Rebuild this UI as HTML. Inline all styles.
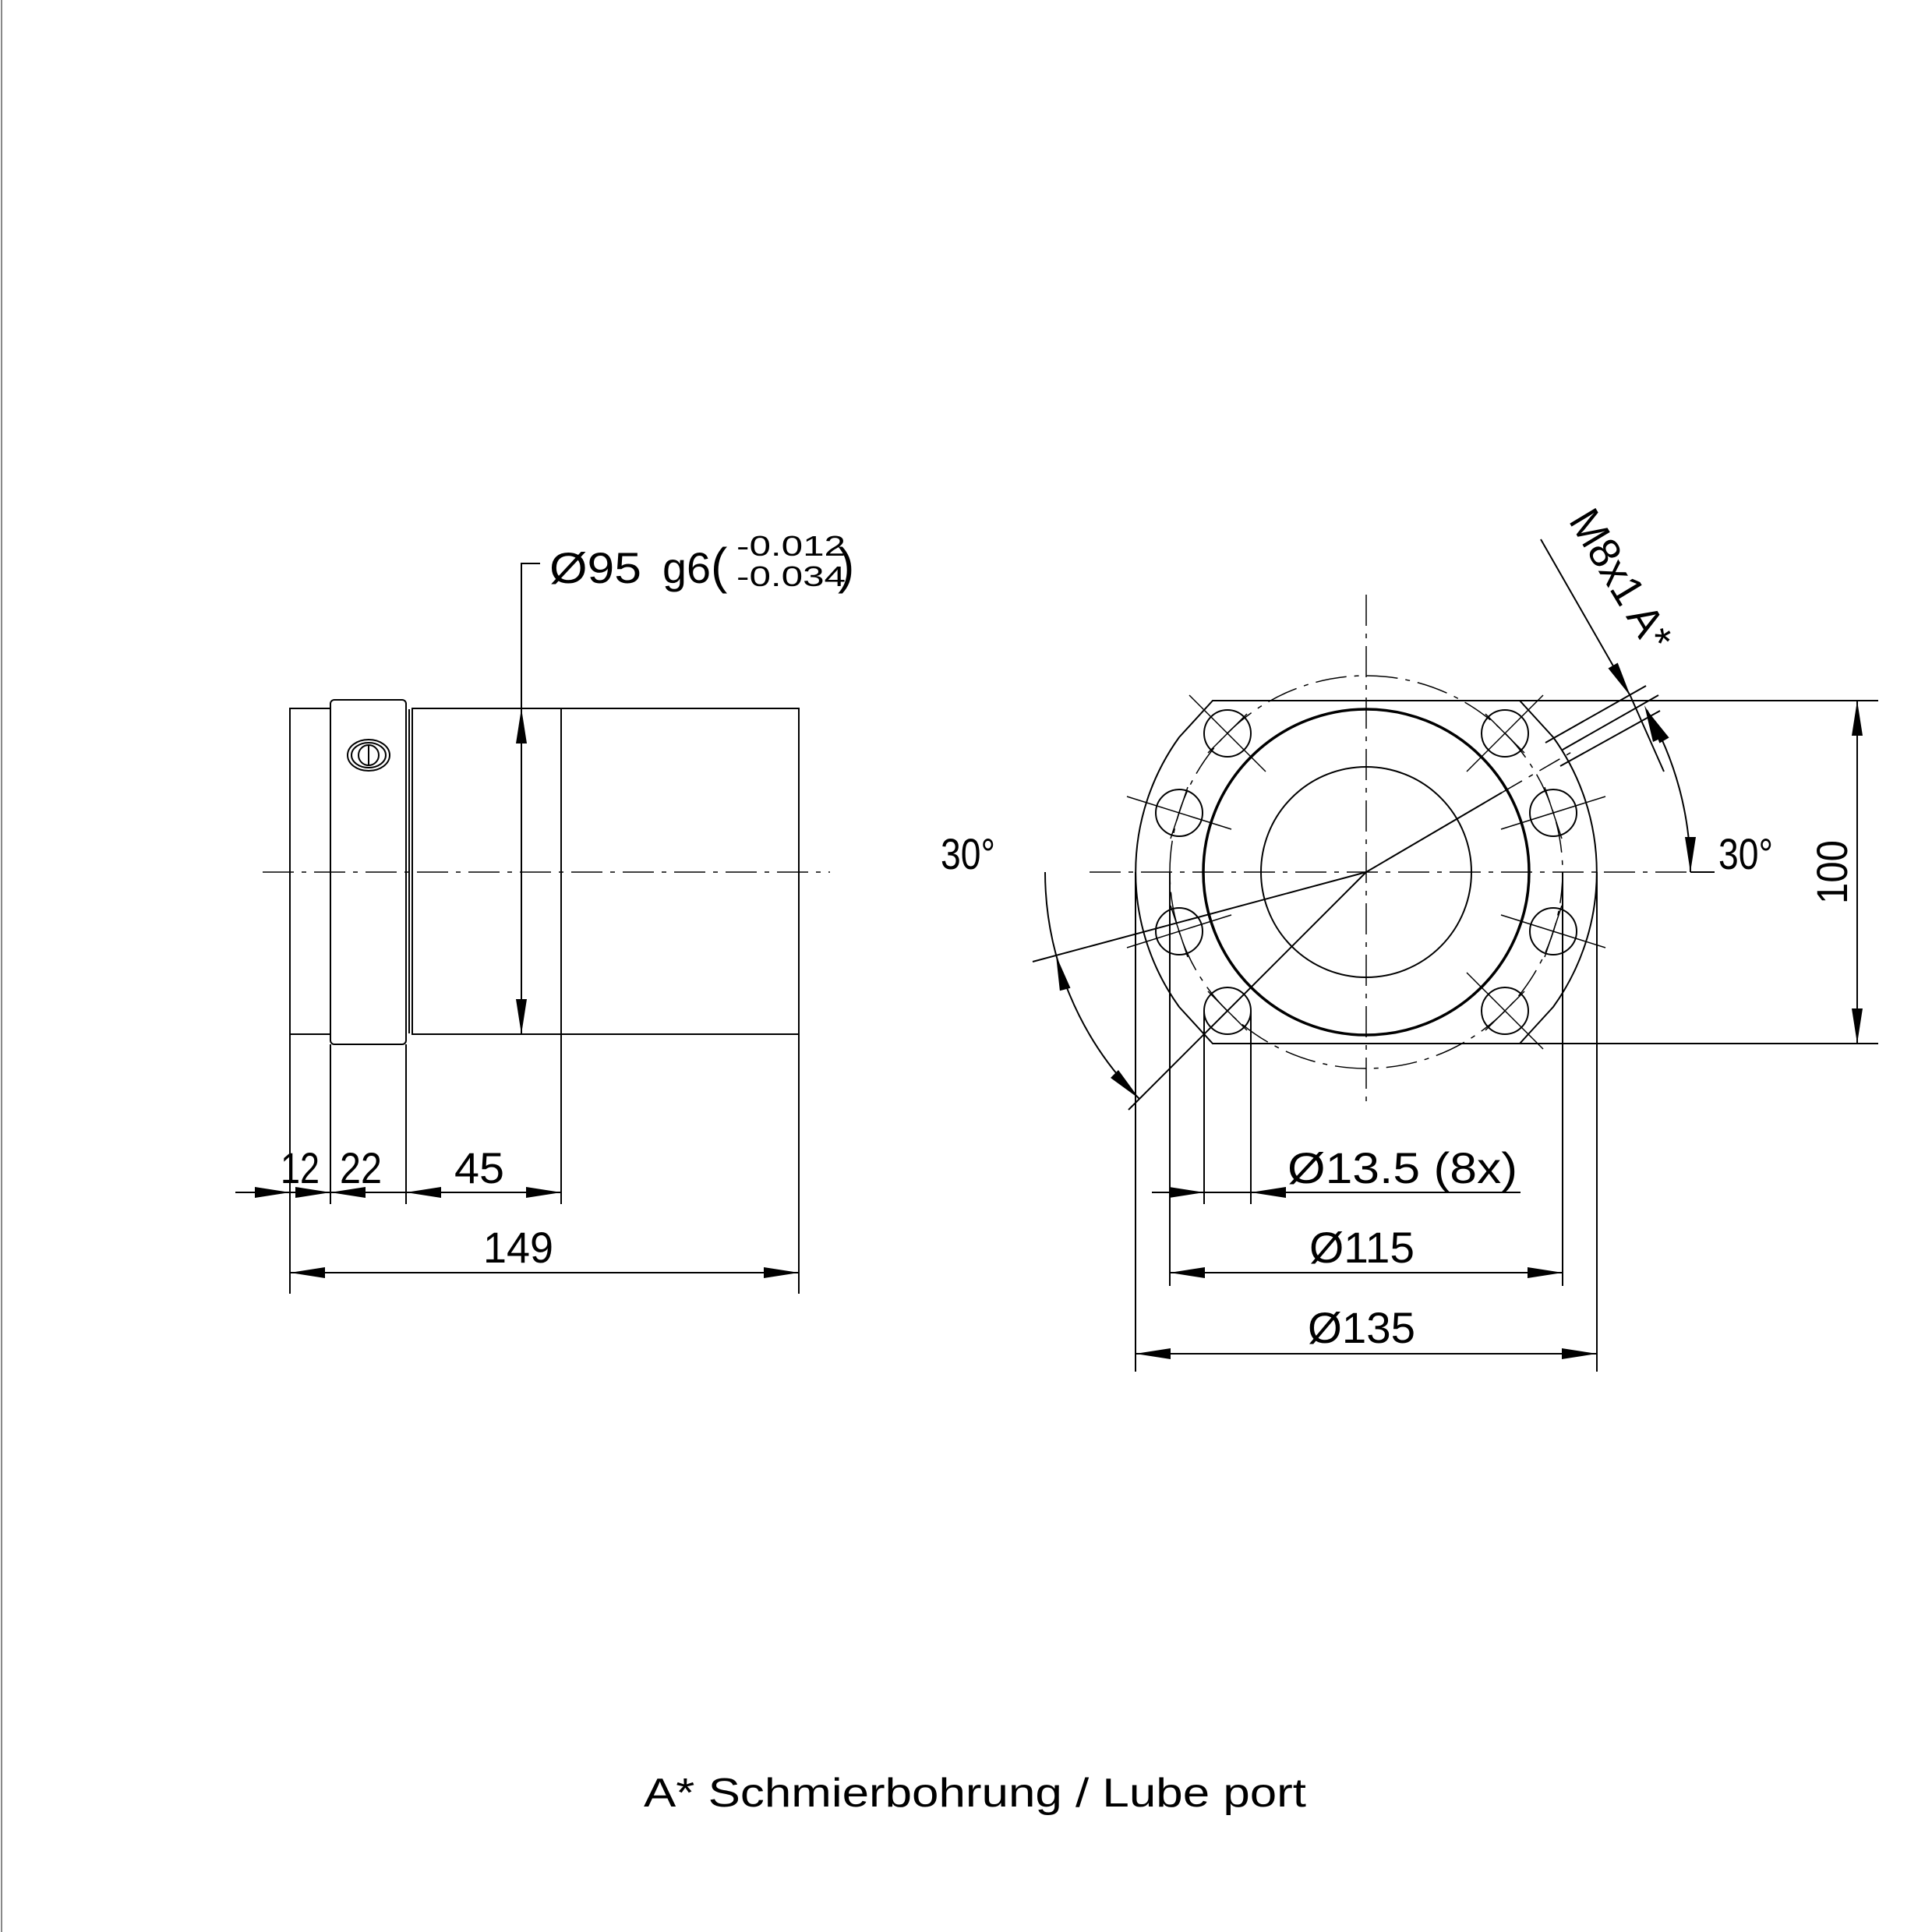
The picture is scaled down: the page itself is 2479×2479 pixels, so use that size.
<!DOCTYPE html>
<html><head><meta charset="utf-8"><style>html,body{margin:0;padding:0;background:#fff}svg{display:block}</style></head><body>
<svg width="2479" height="2479" viewBox="0 0 2479 2479" xmlns="http://www.w3.org/2000/svg" font-family="Liberation Sans, sans-serif">
<rect width="2479" height="2479" fill="#fff"/>
<line x1="2" y1="0" x2="2" y2="2479" stroke="#888" stroke-width="2"/>
<g stroke="#000" fill="none" stroke-width="2">
<!-- LEFT VIEW -->
<rect x="372" y="909" width="52" height="418"/>
<rect x="424" y="898" width="97" height="442" rx="5"/>
<line x1="521" y1="912" x2="521" y2="1325"/><line x1="525" y1="910" x2="525" y2="1326"/>
<rect x="529" y="909" width="496" height="418"/>
<line x1="720" y1="909" x2="720" y2="1327"/>
<ellipse cx="473" cy="969" rx="27" ry="20"/><ellipse cx="473" cy="969" rx="22" ry="16"/>
<circle cx="473" cy="969" r="13"/><line x1="473" y1="956" x2="473" y2="982"/>
<line x1="337" y1="1119" x2="1065" y2="1119" stroke-width="1.5" stroke-dasharray="40,10,6,10"/>
<!-- Ø95 -->
<polyline points="693,723 669,723 669,1327"/>
<!-- ext lines -->
<line x1="372" y1="1327" x2="372" y2="1660"/><line x1="424" y1="1340" x2="424" y2="1545"/>
<line x1="521" y1="1340" x2="521" y2="1545"/><line x1="720" y1="1327" x2="720" y2="1545"/>
<line x1="1025" y1="1327" x2="1025" y2="1660"/>
<line x1="302" y1="1530" x2="720" y2="1530"/>
<line x1="372" y1="1633" x2="1025" y2="1633"/>
<!-- RIGHT VIEW -->
<path d="M1556 899 L1950 899 L1993 946 A296 296 0 0 1 1993 1292 L1950 1339 L1556 1339 L1513 1292 A296 296 0 0 1 1513 946 Z"/>
<circle cx="1753" cy="1119" r="209" stroke-width="3.5"/>
<circle cx="1753" cy="1119" r="135"/>
<circle cx="1753" cy="1119" r="252" stroke-width="1.5" stroke-dasharray="40,10,6,10"/>
<circle cx="1993" cy="1043" r="30"/><circle cx="1993" cy="1195" r="30"/>
<circle cx="1513" cy="1043" r="30"/><circle cx="1513" cy="1195" r="30"/>
<circle cx="1931" cy="941" r="30"/><circle cx="1575" cy="941" r="30"/>
<circle cx="1575" cy="1297" r="30"/><circle cx="1931" cy="1297" r="30"/>
<g stroke-width="1.5">
<line x1="1926" y1="1064" x2="2060" y2="1022"/><line x1="1982" y1="1010" x2="2004" y2="1076"/>
<line x1="1926" y1="1174" x2="2060" y2="1216"/><line x1="2004" y1="1162" x2="1982" y2="1228"/>
<line x1="1580" y1="1064" x2="1446" y2="1022"/><line x1="1524" y1="1010" x2="1502" y2="1076"/>
<line x1="1580" y1="1174" x2="1446" y2="1216"/><line x1="1502" y1="1162" x2="1524" y2="1228"/>
<line x1="1882" y1="990" x2="1980" y2="892"/><line x1="1906" y1="916" x2="1956" y2="966"/>
<line x1="1624" y1="990" x2="1526" y2="892"/><line x1="1600" y1="916" x2="1550" y2="966"/>
<line x1="1624" y1="1248" x2="1526" y2="1346"/><line x1="1550" y1="1272" x2="1600" y2="1322"/>
<line x1="1882" y1="1248" x2="1980" y2="1346"/><line x1="1956" y1="1272" x2="1906" y2="1322"/>
</g>
<line x1="1753" y1="763" x2="1753" y2="1414" stroke-width="1.5" stroke-dasharray="40,10,6,10"/>
<line x1="1398" y1="1119" x2="2193" y2="1119" stroke-width="1.5" stroke-dasharray="40,10,6,10"/>
<line x1="2169" y1="1119" x2="2200" y2="1119"/>
<!-- port -->
<line x1="1753" y1="1119" x2="1927" y2="1017"/>
<line x1="1927" y1="1017" x2="2020" y2="963" stroke-width="1.5" stroke-dasharray="30,10,6,10"/>
<line x1="1983" y1="953" x2="2112" y2="880"/>
<line x1="2005" y1="962" x2="2128" y2="892"/>
<line x1="2002" y1="983" x2="2130" y2="912"/>
<line x1="1977" y1="692" x2="2092" y2="893"/>
<line x1="2092" y1="893" x2="2135" y2="990"/>
<!-- lower-left angle -->
<line x1="1753" y1="1119" x2="1448" y2="1424"/>
<line x1="1753" y1="1119" x2="1325" y2="1234"/>
<path d="M1341 1119 A412 412 0 0 0 1462 1410"/>
<path d="M2169 1119 A416 416 0 0 0 2113 911"/>
<!-- 100 -->
<line x1="1950" y1="899" x2="2410" y2="899"/><line x1="1950" y1="1339" x2="2410" y2="1339"/>
<line x1="2383" y1="899" x2="2383" y2="1339"/>
<!-- bottom dims -->
<line x1="1545" y1="1297" x2="1545" y2="1545"/><line x1="1605" y1="1297" x2="1605" y2="1545"/>
<line x1="1501" y1="1119" x2="1501" y2="1650"/><line x1="2005" y1="1119" x2="2005" y2="1650"/>
<line x1="1457" y1="1119" x2="1457" y2="1760"/><line x1="2049" y1="1119" x2="2049" y2="1760"/>
<line x1="1478" y1="1530" x2="1951" y2="1530"/>
<line x1="1501" y1="1633" x2="2005" y2="1633"/>
<line x1="1457" y1="1737" x2="2049" y2="1737"/>
</g>
<g fill="#000">
<polygon points="669,909 662,954 676,954"/><polygon points="669,1327 662,1282 676,1282"/>
<polygon points="372,1530 327,1523 327,1537"/><polygon points="424,1530 379,1523 379,1537"/>
<polygon points="424,1530 469,1523 469,1537"/><polygon points="521,1530 566,1523 566,1537"/>
<polygon points="720,1530 675,1523 675,1537"/>
<polygon points="372,1633 417,1626 417,1640"/><polygon points="1025,1633 980,1626 980,1640"/>
<polygon points="1545,1530 1500,1523 1500,1537"/><polygon points="1605,1530 1650,1523 1650,1537"/>
<polygon points="1501,1633 1546,1626 1546,1640"/><polygon points="2005,1633 1960,1626 1960,1640"/>
<polygon points="1457,1737 1502,1730 1502,1744"/><polygon points="2049,1737 2004,1730 2004,1744"/>
<polygon points="2383,899 2376,944 2390,944"/><polygon points="2383,1339 2376,1294 2390,1294"/>
<polygon points="2169,1119 2162,1074 2176,1074"/>
<polygon points="2113,911 2141.6,946.5 2129.4,953.5"/>
<polygon points="1355,1226 1373.5,1267.7 1359.9,1271.3"/>
<polygon points="1462,1410 1435,1373 1425,1383"/>
<polygon points="2092,893 2075.7,850.5 2063.5,857.5"/>
<polygon points="2110,905 2134,946 2121,952"/>
</g>
<g fill="#000" font-size="56">
<text x="705" y="748" textLength="118" lengthAdjust="spacingAndGlyphs">Ø95</text>
<text x="850" y="748" textLength="62" lengthAdjust="spacingAndGlyphs">g6</text>
<text x="912" y="748" font-size="64">(</text>
<text x="945" y="713" font-size="36" textLength="140" lengthAdjust="spacingAndGlyphs">-0.012</text>
<text x="945" y="752" font-size="36" textLength="140" lengthAdjust="spacingAndGlyphs">-0.034</text>
<text x="1075" y="748" font-size="64">)</text>
<text x="360" y="1518" textLength="50" lengthAdjust="spacingAndGlyphs">12</text>
<text x="436" y="1518" textLength="54" lengthAdjust="spacingAndGlyphs">22</text>
<text x="583" y="1518" textLength="64" lengthAdjust="spacingAndGlyphs">45</text>
<text x="620" y="1620" textLength="90" lengthAdjust="spacingAndGlyphs">149</text>
<text x="1652" y="1518" textLength="295" lengthAdjust="spacingAndGlyphs">Ø13.5 (8x)</text>
<text x="1680" y="1620" textLength="135" lengthAdjust="spacingAndGlyphs">Ø115</text>
<text x="1678" y="1723" textLength="138" lengthAdjust="spacingAndGlyphs">Ø135</text>
<text x="1207" y="1115" textLength="70" lengthAdjust="spacingAndGlyphs">30°</text>
<text x="2205" y="1115" textLength="70" lengthAdjust="spacingAndGlyphs">30°</text>
<text transform="translate(2370,1160) rotate(-90)" textLength="82" lengthAdjust="spacingAndGlyphs">100</text>
<text transform="translate(2012,668) rotate(59)" textLength="200" lengthAdjust="spacingAndGlyphs">M8x1 A*</text>
<text x="826" y="2318" font-size="52" textLength="850" lengthAdjust="spacingAndGlyphs">A* Schmierbohrung / Lube port</text>
</g>
</svg>
</body></html>
